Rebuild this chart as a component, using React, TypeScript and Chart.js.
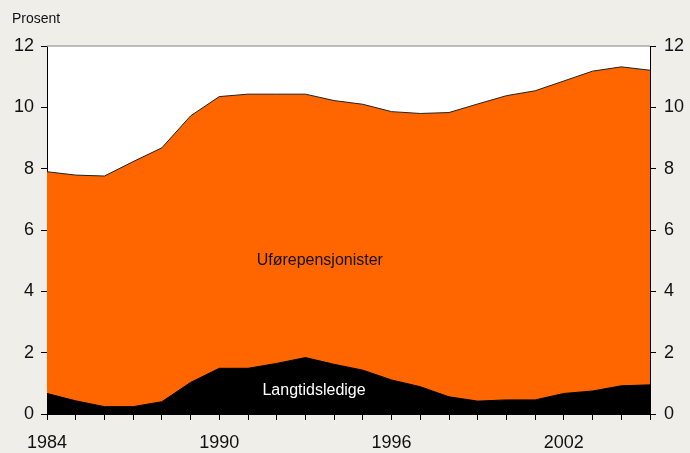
import React, { useEffect, useRef } from "react";
import { Chart, registerables } from "chart.js";

Chart.register(...registerables);

const years = [
  "1984", "1985", "1986", "1987", "1988", "1989", "1990", "1991", "1992", "1993", "1994",
  "1995", "1996", "1997", "1998", "1999", "2000", "2001", "2002", "2003", "2004", "2005",
];
const shownYears = ["1984", "1990", "1996", "2002"];
const langtidsledige = [
  0.67, 0.43, 0.24, 0.24, 0.4, 1.03, 1.49, 1.49, 1.65, 1.84, 1.62,
  1.43, 1.11, 0.89, 0.56, 0.42, 0.46, 0.46, 0.67, 0.75, 0.92, 0.95,
];
const totalt = [
  7.9, 7.79, 7.76, 8.23, 8.68, 9.72, 10.35, 10.43, 10.43, 10.43, 10.22,
  10.1, 9.86, 9.8, 9.83, 10.11, 10.38, 10.54, 10.86, 11.18, 11.32, 11.21,
];
const uforepensjonister = totalt.map((t, i) => +(t - langtidsledige[i]).toFixed(2));
const yTicks = [0, 2, 4, 6, 8, 10, 12];

const FONT = "'Liberation Sans', Arial, sans-serif";
const BG = "#efeee8";

export default function App() {
  const ref = useRef<HTMLCanvasElement>(null);
  useEffect(() => {
    document.body.style.margin = "0";
    const canvas = ref.current!;
    const deco = {
      id: "deco",
      beforeDraw(chart: any) {
        const { ctx, chartArea: a } = chart;
        ctx.save();
        ctx.fillStyle = BG;
        ctx.fillRect(0, 0, chart.width, chart.height);
        ctx.fillStyle = "#ffffff";
        ctx.fillRect(a.left, a.top, a.right - a.left, a.bottom - a.top);
        ctx.restore();
      },
      afterDraw(chart: any) {
        const { ctx, chartArea: a, scales } = chart;
        ctx.save();
        ctx.strokeStyle = "#a8a8a8";
        ctx.lineWidth = 1.5;
        ctx.beginPath();
        ctx.moveTo(a.left, a.top);
        ctx.lineTo(a.right, a.top);
        ctx.stroke();
        ctx.font = `14px ${FONT}`;
        ctx.fillStyle = "#111";
        ctx.textAlign = "left";
        ctx.textBaseline = "alphabetic";
        ctx.fillText("Prosent", 12, 23);
        ctx.font = `16px ${FONT}`;
        ctx.textAlign = "center";
        ctx.textBaseline = "middle";
        ctx.fillStyle = "#111";
        ctx.fillText("Uførepensjonister", scales.x.getPixelForValue(9.5), scales.y.getPixelForValue(5));
        ctx.fillStyle = "#ffffff";
        ctx.fillText("Langtidsledige", scales.x.getPixelForValue(9.3), scales.y.getPixelForValue(0.75));
        ctx.restore();
      },
    };
    const tickFont = { family: FONT, size: 18 };
    const chart = new Chart(canvas, {
      type: "line",
      data: {
        labels: years,
        datasets: [
          {
            label: "Langtidsledige",
            data: langtidsledige,
            backgroundColor: "#000000",
            borderColor: "#000000",
            borderWidth: 1,
            fill: "origin",
            pointRadius: 0,
            tension: 0,
          },
          {
            label: "Uførepensjonister",
            data: uforepensjonister,
            backgroundColor: "#ff6600",
            borderColor: "#222222",
            borderWidth: 1,
            fill: "-1",
            pointRadius: 0,
            tension: 0,
          },
        ],
      },
      options: {
        animation: false,
        responsive: false,
        layout: { padding: { top: 46, left: 0, right: 0, bottom: 0 } },
        plugins: { legend: { display: false }, tooltip: { enabled: false } },
        scales: {
          x: {
            type: "category",
            offset: false,
            afterFit: (s: any) => { s.height = 39; },
            grid: { display: true, drawOnChartArea: false, drawTicks: true, tickLength: 6, color: "#000" },
            border: { display: true, color: "#000", width: 1 },
            ticks: {
              autoSkip: false,
              maxRotation: 0,
              padding: 12,
              color: "#111",
              font: tickFont,
              callback: (v: any, i: number) => (shownYears.includes(years[i]) ? years[i] : ""),
            },
          },
          y: {
            type: "linear",
            position: "left",
            stacked: true,
            min: 0,
            max: 12,
            afterFit: (s: any) => { s.width = 47; },
            afterBuildTicks: (s: any) => { s.ticks = yTicks.map((v) => ({ value: v })); },
            grid: { display: true, drawOnChartArea: false, drawTicks: true, tickLength: 6, color: "#000" },
            border: { display: true, color: "#000", width: 1 },
            ticks: { padding: 7, color: "#111", font: tickFont },
          },
          y2: {
            type: "linear",
            position: "right",
            min: 0,
            max: 12,
            afterFit: (s: any) => { s.width = 40; },
            afterBuildTicks: (s: any) => { s.ticks = yTicks.map((v) => ({ value: v })); },
            grid: { display: true, drawOnChartArea: false, drawTicks: true, tickLength: 6, color: "#000" },
            border: { display: true, color: "#000", width: 1 },
            ticks: { padding: 8, color: "#111", font: tickFont },
          },
        },
      },
      plugins: [deco],
    });
    return () => chart.destroy();
  }, []);
  return (
    <div style={{ width: 690, height: 453, background: BG }}>
      <canvas ref={ref} width={690} height={453} style={{ display: "block" }} />
    </div>
  );
}
